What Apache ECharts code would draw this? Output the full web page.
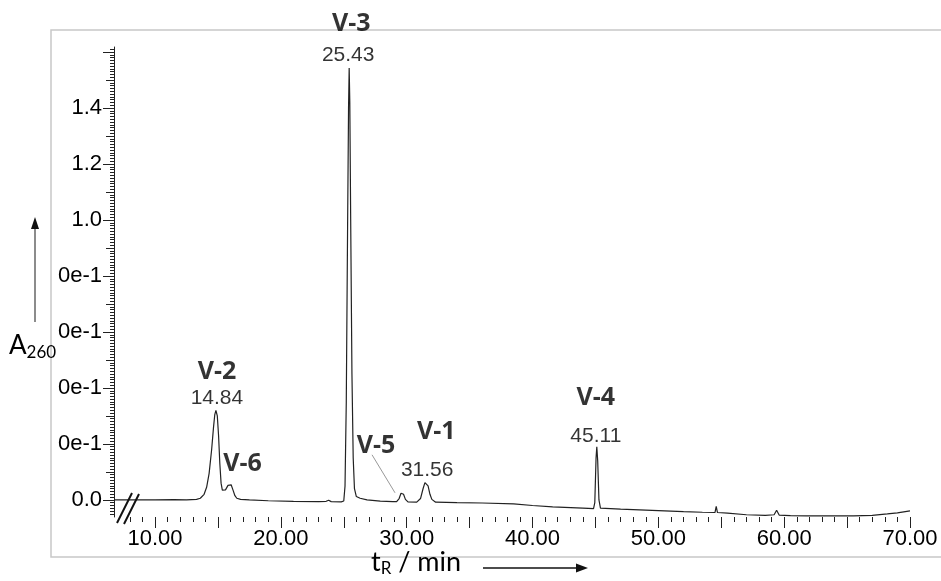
<!DOCTYPE html>
<html>
<head>
<meta charset="utf-8">
<script src="https://cdn.jsdelivr.net/npm/echarts@6/dist/echarts.min.js"></script>
<style>
  html, body { margin: 0; padding: 0; background: #fff; }
  #chart { width: 941px; height: 581px; }
</style>
</head>
<body>
<div id="chart"></div>
<script>
// retention time (min) and absorbance
const times = [
  6.74, 8.0, 10.0, 11.5, 12.5, 13.3, 13.6, 13.9, 14.1, 14.3, 14.5, 14.65, 14.75, 14.84,
  14.95, 15.05, 15.15, 15.25, 15.35, 15.45, 15.6, 15.8, 15.95, 16.05, 16.2, 16.35, 16.5,
  16.8, 17.5, 19.0, 21.0, 23.0, 23.6, 23.8, 24.0, 24.8, 25.0, 25.1, 25.2, 25.3, 25.38,
  25.43, 25.48, 25.55, 25.65, 25.75, 25.85, 26.0, 26.3, 26.85, 27.9, 28.9, 29.2, 29.4,
  29.55, 29.63, 29.75, 29.9, 30.1, 30.8, 31.1, 31.3, 31.45, 31.55, 31.7, 31.85, 32.0,
  32.3, 34.0, 36.0, 38.5, 40.0, 41.6, 44.0, 44.85, 44.95, 45.05, 45.11, 45.18, 45.28,
  45.4, 47.0, 50.0, 52.0, 53.5, 54.5, 54.6, 54.7, 55.5, 57.0, 58.5, 59.2, 59.4, 59.6,
  60.5, 61.8, 64.0, 65.5, 67.0, 68.2, 69.0, 70.0
];
const absorbance = [
  0.000, 0.000, 0.000, 0.001, 0.000, 0.002, 0.006, 0.020, 0.045, 0.095, 0.180, 0.260, 0.305, 0.320,
  0.300, 0.230, 0.130, 0.060, 0.035, 0.030, 0.036, 0.052, 0.057, 0.054, 0.035, 0.015, 0.006,
  0.002, 0.000, -0.003, -0.005, -0.006, -0.005, -0.001, -0.006, -0.007, -0.004, 0.050, 0.350, 0.950, 1.400,
  1.543, 1.420, 1.000, 0.450, 0.150, 0.040, 0.012, 0.006, 0.000, -0.004, -0.006, -0.006, 0.005,
  0.024, 0.029, 0.020, 0.002, -0.007, -0.008, 0.005, 0.040, 0.062, 0.064, 0.050, 0.020, 0.002,
  -0.008, -0.010, -0.011, -0.014, -0.020, -0.025, -0.029, -0.031, -0.010, 0.150, 0.190, 0.140, 0.000,
  -0.029, -0.033, -0.038, -0.042, -0.044, -0.045, -0.023, -0.045, -0.047, -0.053, -0.055, -0.053, -0.037, -0.054,
  -0.056, -0.057, -0.057, -0.057, -0.055, -0.050, -0.046, -0.039
];

// peak annotations
const peakNames = ['V-2', 'V-6', 'V-3', 'V-5', 'V-1', 'V-4'];
const peakTimes = [14.84, 16.0, 25.43, 29.63, 31.55, 45.11];
const peakHeights = [0.320, 0.057, 1.543, 0.029, 0.064, 0.190];
const peakRtLabels = ['14.84', '', '25.43', '', '31.56', '45.11'];

// axis ticks and labels
const xLabelValues = [10, 20, 30, 40, 50, 60, 70];
const xMajorTicks = [10, 15, 20, 25, 30, 35, 40, 45, 50, 55, 60, 65, 70];
const yLabelValues = [0, 0.2, 0.4, 0.6, 0.8, 1.0, 1.2, 1.4];
const yLabelTexts = ['0.0', '0e-1', '0e-1', '0e-1', '0e-1', '1.0', '1.2', '1.4'];
const yMajorTicks = [0, 0.2, 0.4, 0.6, 0.8, 1.0, 1.2, 1.4, 1.6];
const yMidTicks = [0.1, 0.3, 0.5, 0.7, 0.9, 1.1, 1.3, 1.5];

const X_MIN = 6.74, X_MAX = 70, Y_MIN = -0.061, Y_MAX = 1.618;

const xMinorTicks = [];
for (let t = 8; t <= 70; t++) xMinorTicks.push(t);
const yMinorTicks = [];
for (let k = -5; k <= 161; k++) yMinorTicks.push(k / 100);

const nameOffsets = [[1, -38], [12, -20], [2, -44], [-26, -46], [10, -50], [-1, -49]];
const rtOffsets = [[1, -12], [0, 0], [-1, -13], [0, 0], [1, -12], [-1, -11]];

const labelFont = 'Liberation Sans, Arial, sans-serif';
const titleFont = 'Lato, Open Sans, sans-serif';
const boldFont = 'Open Sans, DejaVu Sans, sans-serif';
const ink = '#000';

const chart = echarts.init(document.getElementById('chart'));

const makeX = (ticks, len, labels) => ({
  type: 'value',
  min: X_MIN,
  max: X_MAX,
  position: 'bottom',
  axisLine: { show: false, onZero: false },
  splitLine: { show: false },
  axisTick: { show: true, customValues: ticks, length: len, lineStyle: { color: '#222', width: 1 } },
  axisLabel: labels ? {
    show: true,
    customValues: labels,
    formatter: v => v.toFixed(2),
    fontFamily: labelFont,
    fontSize: 22,
    color: ink,
    margin: 11,
  } : { show: false },
});

const makeY = (ticks, len, showLine, labels) => ({
  type: 'value',
  min: Y_MIN,
  max: Y_MAX,
  position: 'left',
  axisLine: { show: showLine, onZero: false, lineStyle: { color: '#222', width: 1 } },
  splitLine: { show: false },
  axisTick: { show: true, customValues: ticks, length: len, lineStyle: { color: '#222', width: 1 } },
  axisLabel: labels ? {
    show: true,
    customValues: labels,
    formatter: v => yLabelTexts[yLabelValues.findIndex(x => Math.abs(x - v) < 1e-6)] || '',
    fontFamily: labelFont,
    fontSize: 22,
    color: ink,
    margin: 12,
  } : { show: false },
});

const option = {
  animation: false,
  backgroundColor: '#fff',
  grid: { left: 114, right: 31, top: 47, bottom: 64 },
  xAxis: [
    makeX(xMinorTicks, 5, null),
    makeX(xMajorTicks, 11, xLabelValues),
  ],
  yAxis: [
    makeY(yMinorTicks, 4, true, null),
    makeY(yMidTicks, 8, false, null),
    makeY(yMajorTicks, 11, false, yLabelValues),
  ],
  series: [
    {
      name: 'A260',
      type: 'line',
      data: times.map((t, i) => [t, absorbance[i]]),
      showSymbol: false,
      symbol: 'none',
      smooth: false,
      lineStyle: { color: '#222', width: 1.2 },
      z: 3,
    },
    {
      name: 'peak names',
      type: 'scatter',
      symbolSize: 0,
      silent: true,
      data: peakNames.map((n, i) => ({
        value: [peakTimes[i], peakHeights[i]],
        label: {
          show: true,
          position: 'inside',
          offset: nameOffsets[i],
          formatter: n,
          fontFamily: boldFont,
          fontWeight: 'bold',
          fontSize: 25,
          color: '#000',
        },
      })),
      z: 4,
    },
    {
      name: 'retention times',
      type: 'scatter',
      symbolSize: 0,
      silent: true,
      data: peakRtLabels.map((s, i) => ({
        value: [peakTimes[i], peakHeights[i]],
        label: {
          show: s !== '',
          position: 'inside',
          offset: rtOffsets[i],
          formatter: s,
          fontFamily: labelFont,
          fontSize: 21,
          color: ink,
        },
      })),
      z: 4,
    },
  ],
  graphic: [
    // outer frame
    { type: 'rect', shape: { x: 51, y: 30, width: 900, height: 527 }, style: { fill: 'none', stroke: '#c8c8c8', lineWidth: 1.5 }, z: -1 },
    // axis break
    { type: 'line', shape: { x1: 117, y1: 523, x2: 132, y2: 493 }, style: { stroke: '#111', lineWidth: 2 }, z: 10 },
    { type: 'line', shape: { x1: 124, y1: 524, x2: 139, y2: 494 }, style: { stroke: '#111', lineWidth: 2 }, z: 10 },
    // y title + arrow
    { type: 'line', shape: { x1: 35, y1: 322, x2: 35, y2: 226 }, style: { stroke: '#666', lineWidth: 1.5 } },
    { type: 'polygon', shape: { points: [[31, 229], [35, 217], [39, 229]] }, style: { fill: '#111' } },
    {
      type: 'text', left: 9, top: 333,
      style: {
        text: '{a|A}{s|260}',
        rich: {
          a: { fontFamily: titleFont, fontSize: 26, fill: '#000' },
          s: { fontFamily: titleFont, fontSize: 17, fill: '#000', padding: [14, 0, 0, 0] },
        },
      },
    },
    // x title + arrow
    {
      type: 'text', left: 371, top: 549,
      style: {
        text: '{t|t}{s|R}{t| / min}',
        rich: {
          t: { fontFamily: titleFont, fontSize: 27, fill: '#000' },
          s: { fontFamily: titleFont, fontSize: 17, fill: '#000', padding: [13, 0, 0, 0] },
        },
      },
    },
    { type: 'line', shape: { x1: 483, y1: 568, x2: 580, y2: 568 }, style: { stroke: '#111', lineWidth: 1.5 } },
    { type: 'polygon', shape: { points: [[576, 563.5], [588, 568], [576, 572.5]] }, style: { fill: '#111' } },
  ],
};

chart.setOption(option);

// leader line from the V-5 label down to its peak
const p5 = chart.convertToPixel({ seriesIndex: 0 }, [peakTimes[3], peakHeights[3]]);
chart.setOption({
  graphic: option.graphic.concat([
    { type: 'line', shape: { x1: p5[0] - 30, y1: p5[1] - 37, x2: p5[0] - 7, y2: p5[1] + 1 }, style: { stroke: '#999', lineWidth: 1 } },
  ]),
});
</script>
</body>
</html>
